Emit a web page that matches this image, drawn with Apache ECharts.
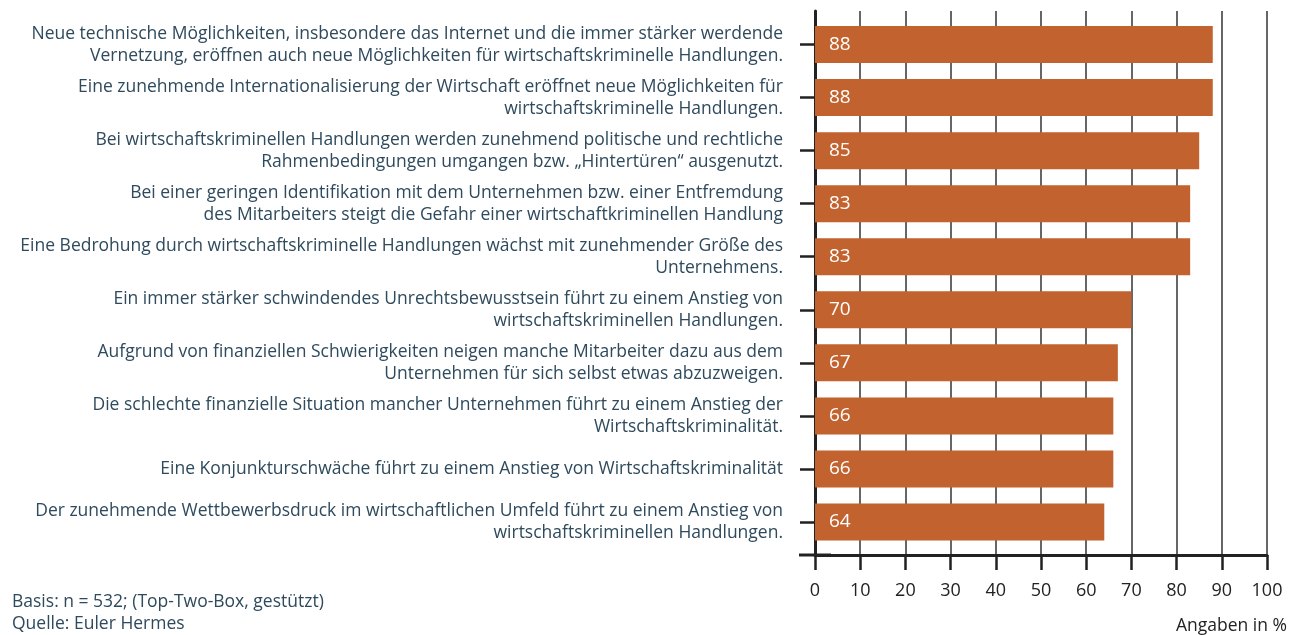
<!DOCTYPE html>
<html>
<head>
<meta charset="utf-8">
<script src="https://cdn.jsdelivr.net/npm/echarts@6/dist/echarts.min.js"></script>
<style>
    html, body { margin: 0; padding: 0; background: #fff; }
    #main { width: 1296px; height: 635px; }
</style>
</head>
<body>
<div id="main"></div>
<script>
// Aussagen (von oben nach unten)
var statements = [
    'Neue technische Möglichkeiten, insbesondere das Internet und die immer stärker werdende\nVernetzung, eröffnen auch neue Möglichkeiten für wirtschaftskriminelle Handlungen.',
    'Eine zunehmende Internationalisierung der Wirtschaft eröffnet neue Möglichkeiten für\nwirtschaftskriminelle Handlungen.',
    'Bei wirtschaftskriminellen Handlungen werden zunehmend politische und rechtliche\nRahmenbedingungen umgangen bzw. „Hintertüren“ ausgenutzt.',
    'Bei einer geringen Identifikation mit dem Unternehmen bzw. einer Entfremdung\ndes Mitarbeiters steigt die Gefahr einer wirtschaftkriminellen Handlung',
    'Eine Bedrohung durch wirtschaftskriminelle Handlungen wächst mit zunehmender Größe des\nUnternehmens.',
    'Ein immer stärker schwindendes Unrechtsbewusstsein führt zu einem Anstieg von\nwirtschaftskriminellen Handlungen.',
    'Aufgrund von finanziellen Schwierigkeiten neigen manche Mitarbeiter dazu aus dem\nUnternehmen für sich selbst etwas abzuzweigen.',
    'Die schlechte finanzielle Situation mancher Unternehmen führt zu einem Anstieg der\nWirtschaftskriminalität.',
    'Eine Konjunkturschwäche führt zu einem Anstieg von Wirtschaftskriminalität',
    'Der zunehmende Wettbewerbsdruck im wirtschaftlichen Umfeld führt zu einem Anstieg von\nwirtschaftskriminellen Handlungen.'
];
var values = [88, 88, 85, 83, 83, 70, 67, 66, 66, 64];

var textColor = '#2e4a5c';
var axisColor = '#222';
var fontFam = '"Open Sans", "Noto Sans", sans-serif';

var myChart = echarts.init(document.getElementById('main'));
var option = {
    backgroundColor: '#fff',
    animation: false,
    title: [
        {
            text: 'Basis: n = 532; (Top-Two-Box, gestützt)\nQuelle: Euler Hermes',
            left: 12,
            bottom: 0,
            padding: 0,
            textStyle: {
                color: textColor,
                fontSize: 17.5,
                fontWeight: 'normal',
                fontFamily: fontFam,
                lineHeight: 22
            }
        },
        {
            text: 'Angaben in %',
            right: 9,
            bottom: 0,
            padding: 0,
            textStyle: {
                color: axisColor,
                fontSize: 17.5,
                fontWeight: 'normal',
                fontFamily: fontFam
            }
        }
    ],
    // grid 0: Achsenrahmen + Gitter, grid 1: Balken
    grid: [
        { left: 815, right: 29, top: 11, bottom: 80 },
        { left: 815, right: 29, top: 18, bottom: 86.5 }
    ],
    xAxis: [
        {
            gridIndex: 0,
            type: 'value',
            min: 0,
            max: 100,
            interval: 10,
            axisLine: {
                show: true,
                symbol: ['rect', 'none'],
                symbolSize: [3, 32],
                lineStyle: { color: axisColor, width: 3 }
            },
            axisTick: { show: true, length: 15, lineStyle: { color: axisColor, width: 2.5 } },
            axisLabel: { color: axisColor, fontSize: 18, fontFamily: fontFam, margin: 27 },
            splitLine: { show: true, lineStyle: { color: '#333', width: 1.5 } }
        },
        {
            gridIndex: 1,
            type: 'value',
            min: 0,
            max: 100,
            show: false
        }
    ],
    yAxis: [
        {
            gridIndex: 0,
            type: 'value',
            min: 0,
            max: 1,
            axisLine: { show: true, lineStyle: { color: axisColor, width: 3 } },
            axisTick: { show: false },
            axisLabel: { show: false },
            splitLine: { show: false }
        },
        {
            gridIndex: 1,
            type: 'category',
            inverse: true,
            data: statements,
            axisLine: { show: false },
            axisTick: { show: true, alignWithLabel: true, length: 15, lineStyle: { color: axisColor, width: 2.5 } },
            axisLabel: {
                color: textColor,
                fontSize: 17.5,
                fontFamily: fontFam,
                lineHeight: 22,
                margin: 32,
                align: 'right'
            }
        }
    ],
    series: [
        {
            type: 'bar',
            xAxisIndex: 1,
            yAxisIndex: 1,
            data: values,
            barWidth: 37,
            itemStyle: { color: '#c1622f' },
            label: {
                show: true,
                position: 'insideLeft',
                distance: 14,
                color: '#fff',
                fontSize: 19,
                fontFamily: fontFam
            }
        }
    ]
};
myChart.setOption(option);
</script>
</body>
</html>
